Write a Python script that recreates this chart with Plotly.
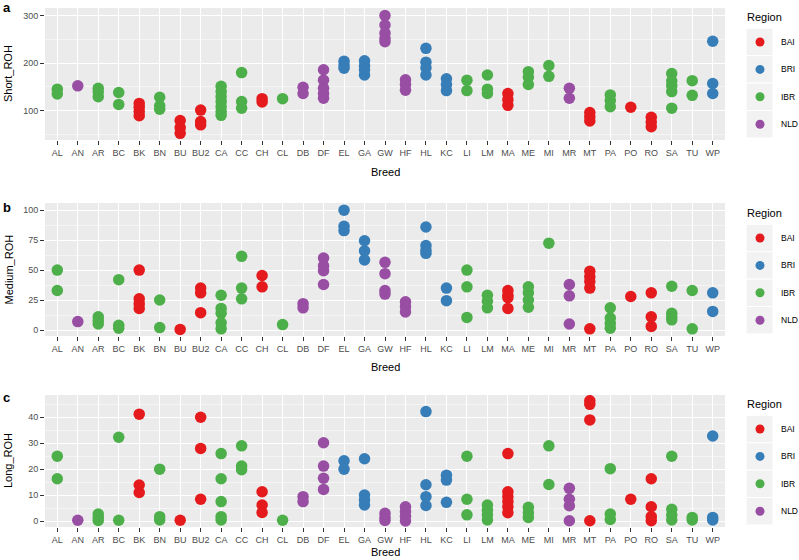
import plotly.graph_objects as go

breeds = ["AL","AN","AR","BC","BK","BN","BU","BU2","CA","CC","CH","CL","DB","DF","EL","GA","GW",
          "HF","HL","KC","LI","LM","MA","ME","MI","MR","MT","PA","PO","RO","SA","TU","WP"]
breed_region = ["IBR","NLD","IBR","IBR","BAI","IBR","BAI","BAI","IBR","IBR","BAI","IBR","NLD","NLD","BRI","BRI","NLD",
                "NLD","BRI","BRI","IBR","IBR","BAI","IBR","IBR","NLD","BAI","IBR","BAI","BAI","IBR","IBR","BRI"]

short_roh = [[145,135],[152],[147,139,129],[138,113],[115,107,98,89],[128,110,103],[79,64,52],[101,77,70],
             [151,140,129,119,108,98,90],[180,119,105],[125,118],[125],[149,136],[186,164,147,136,126],
             [204,196,189],[205,194,186,175],[300,280,263,252,245],
             [165,155,143],[231,202,190,175],[167,155,142],[164,142],[175,145,136],[136,123,111],
             [182,170,155],[195,172],[147,126],[96,87,78],[133,121,108],[107],[86,76,66],
             [178,162,152,140,105],[163,132],[246,157,136]]

medium_roh = [[50,33],[7],[11,8,5],[42,4,1.5],[50,26,22,18],[25,2],[0.5],[35,31,14.5],
              [29,18,14,6,1],[61.5,35,26],[45.5,36],[4.5],[22,18.5],[60,53.5,49.5,38],
              [100,86.5,83],[74.5,66,58.5],[56.5,47,33,30],
              [23.5,19.5,15],[86,70.5,66.5,64],[35,24.5],[50,36,10.5],[29,24,18.5],[33,29,27,18],
              [36,31,25,19],[72.5],[38,28.5,5],[49,44.5,40.5,35,1],[18.5,10,5.5,1.5],[28],[31,11,3],
              [36.5,14,11,8.5],[33,1],[31,15.5]]

long_roh = [[25,16.3],[0.3],[2.7,1.4,0.2],[32.3,0.3],[41.2,13.9,11],[20,1.7,0.4],[0.3],[40,28,8.4],
            [26,16.3,7.5,1.7,0.4],[29,21.2,19.8],[11.3,6.2,3.3],[0.3],[9.4,7.5],[30.2,21.2,16.5,12.2],
            [23.2,20],[24,10,8.1,6.2],[3,1.4,0.2],
            [5.5,3.6,1.8,0],[42.2,14,9.4,6],[17.7,15.8,7.2],[25,8.4,2.4],[6.2,4.2,2.3,0.4],
            [26,11.3,9.4,7.5,5.5,3.2],[5.3,3.2,1.4],[29,14.1],[12.6,8.4,5.9,0.1],[46.4,45,39,0.1],
            [20.2,2.7,0.6],[8.4],[16.3,5.5,1.7,0.1],[25,4.5,2.3,0.4],[1.4,0.4],[32.8,1.4,0.4]]

regions = ["BAI","BRI","IBR","NLD"]
region_colors = {"BAI":"#E41A1C","BRI":"#377EB8","IBR":"#4DAF4A","NLD":"#984EA3"}

panel_titles = ["Short_ROH","Medium_ROH","Long_ROH"]
panel_letters = ["a","b","c"]
panel_data = [short_roh, medium_roh, long_roh]
y_ranges = [[38,316],[-5,106],[-2.3,48.6]]
y_ticks = [[100,200,300],[0,25,50,75,100],[0,10,20,30,40]]
y_minor = [50,12.5,5]

W, H = 799, 560
panel_px = [(8,140),(203,336),(395,527)]
x_left, x_right = 45, 725
xtitle_y = [172,367,552]
legend_title_y = [17,213,404]

FONT = "Liberation Sans, Arial"

fig = go.Figure()
for p in range(3):
    ax = "" if p == 0 else str(p+1)
    for reg in regions:
        xs, ys = [], []
        for b, r, vals in zip(breeds, breed_region, panel_data[p]):
            if r == reg:
                for v in vals:
                    xs.append(b); ys.append(v)
        fig.add_trace(go.Scatter(x=xs, y=ys, mode="markers", xaxis="x"+ax, yaxis="y"+ax,
                                 marker=dict(color=region_colors[reg], size=11.5, line=dict(width=0)),
                                 showlegend=False, hoverinfo="x+y"))
    top, bot = panel_px[p]
    fig.layout["xaxis"+ax] = dict(domain=[x_left/W, x_right/W], anchor="y"+ax, type="category",
        categoryorder="array", categoryarray=breeds, range=[-0.6, len(breeds)-0.4],
        showgrid=True, gridcolor="white", gridwidth=1.1, zeroline=False, showline=False,
        ticks="outside", ticklen=4, tickcolor="#333333", tickwidth=1,
        tickfont=dict(family=FONT, size=9, color="#4D4D4D"), fixedrange=True)
    fig.layout["yaxis"+ax] = dict(domain=[1-bot/H, 1-top/H], anchor="x"+ax, range=y_ranges[p],
        tickvals=y_ticks[p], showgrid=True, gridcolor="white", gridwidth=1.1, zeroline=False, showline=False,
        ticks="outside", ticklen=4, tickcolor="#333333", tickwidth=1,
        tickfont=dict(family=FONT, size=9, color="#4D4D4D"),
        minor=dict(dtick=y_minor[p], tick0=0, showgrid=True, gridcolor="#F5F5F5", gridwidth=0.6, ticks=""),
        fixedrange=True)

annotations = []
shapes = []
for p in range(3):
    top, bot = panel_px[p]
    annotations.append(dict(text=panel_titles[p], x=8/W, y=1-((top+bot)/2)/H, xref="paper", yref="paper",
                            textangle=-90, showarrow=False, xanchor="center", yanchor="middle",
                            font=dict(family=FONT, size=11, color="black")))
    annotations.append(dict(text="Breed", x=((x_left+x_right)/2)/W, y=1-xtitle_y[p]/H, xref="paper", yref="paper",
                            showarrow=False, xanchor="center", yanchor="middle",
                            font=dict(family=FONT, size=11, color="black")))
    ly = [8, 207, 397][p]
    annotations.append(dict(text="<b>"+panel_letters[p]+"</b>", x=1/W, y=1-ly/H, xref="paper", yref="paper",
                            showarrow=False, xanchor="left", yanchor="middle",
                            font=dict(family=FONT, size=13, color="black")))
    ty = legend_title_y[p]
    annotations.append(dict(text="Region", x=745/W, y=1-ty/H, xref="paper", yref="paper",
                            showarrow=False, xanchor="left", yanchor="middle",
                            font=dict(family=FONT, size=11, color="black")))
    for k, reg in enumerate(regions):
        cy = ty + 25 + k*27.4
        shapes.append(dict(type="rect", xref="paper", yref="paper",
                           x0=746/W, x1=773/W, y0=1-(cy-13.7)/H, y1=1-(cy+13.7)/H,
                           fillcolor="#F2F2F2", line=dict(color="white", width=1), layer="below"))
        r = 4.5
        shapes.append(dict(type="circle", xref="paper", yref="paper",
                           x0=(760-r)/W, x1=(760+r)/W, y0=1-(cy-r)/H, y1=1-(cy+r)/H,
                           fillcolor=region_colors[reg], line=dict(width=0)))
        annotations.append(dict(text=reg, x=779/W, y=1-cy/H, xref="paper", yref="paper",
                                showarrow=False, xanchor="left", yanchor="middle",
                                font=dict(family=FONT, size=8.5, color="black")))

fig.update_layout(width=W, height=H, margin=dict(l=0, r=0, t=0, b=0),
                  paper_bgcolor="white", plot_bgcolor="#EBEBEB",
                  annotations=annotations, shapes=shapes, showlegend=False)

fig.write_html("out.html", config={"displayModeBar": False},
               post_script="document.body.style.margin='0';document.body.style.overflow='hidden';")
